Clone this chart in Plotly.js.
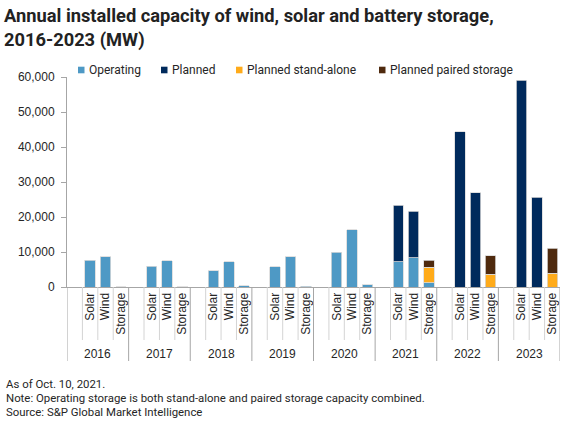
<!DOCTYPE html>
<html>
<head>
<meta charset="utf-8">
<script src="https://cdn.plot.ly/plotly-3.0.1.min.js"></script>
<style>
  html, body { margin: 0; padding: 0; background: #fff; }
  #chart { width: 585px; height: 429px; }
</style>
</head>
<body>
<div id="chart"></div>
<script>
// ---------- data (MW) ----------
const years = ['2016', '2017', '2018', '2019', '2020', '2021', '2022', '2023'];
const techs = ['Solar', 'Wind', 'Storage'];
const seriesNames = ['Operating', 'Planned', 'Planned stand-alone', 'Planned paired storage'];

const operatingSolar   = [7700, 6000, 4600, 5800, 10000, 7200, null, null];
const operatingWind    = [8600, 7500, 7200, 8700, 16400, 8300, null, null];
const operatingStorage = [50, 60, 300, 200, 650, 1200, null, null];

const plannedSolar = [null, null, null, null, null, 16100, 44400, 59100];
const plannedWind  = [null, null, null, null, null, 13400, 26900, 25700];

const plannedStandAloneStorage = [null, null, null, null, null, 4500, 3600, 3900];
const plannedPairedStorage     = [null, null, null, null, null, 1900, 5400, 7200];

const footnotes = [
  'As of Oct. 10, 2021.',
  'Note: Operating storage is both stand-alone and paired storage capacity combined.',
  'Source: S&P Global Market Intelligence'
];

// ---------- styling ----------
const colors = ['#4e99c5', '#002a5c', '#ffab1a', '#4f2a0e'];
const slotsPerYear = 4;            // one empty slot + Solar, Wind, Storage
const axisFont = 'Liberation Sans, Arial, sans-serif';
const textFont = 'Roboto, "Noto Sans", sans-serif';

// plot area in pixels (used only to place decorations)
const M = { l: 67, r: 25, t: 77, b: 142 };
const W = 585, H = 429;
const PW = W - M.l - M.r, PH = H - M.t - M.b;
const xp = px => (px - M.l) / PW;
const yp = py => (H - M.b - py) / PH;

function slot(yi, ti) { return yi * slotsPerYear + ti + 1; }

function buildTrace(name, color, byTech) {
  const x = [], y = [];
  years.forEach((yr, yi) => {
    techs.forEach((t, ti) => {
      const arr = byTech[t];
      if (arr && arr[yi] !== null && arr[yi] !== undefined) {
        x.push(slot(yi, ti));
        y.push(arr[yi]);
      }
    });
  });
  return {
    type: 'bar', name: name, x: x, y: y, width: 0.68,
    marker: { color: color, line: { color: '#d9d9d9', width: 0.8 } },
    hoverinfo: 'skip', showlegend: false
  };
}

const traces = [
  buildTrace(seriesNames[0], colors[0], { Solar: operatingSolar, Wind: operatingWind, Storage: operatingStorage }),
  buildTrace(seriesNames[1], colors[1], { Solar: plannedSolar, Wind: plannedWind }),
  buildTrace(seriesNames[2], colors[2], { Storage: plannedStandAloneStorage }),
  buildTrace(seriesNames[3], colors[3], { Storage: plannedPairedStorage })
];

// tick labels for the inner level
const tickvals = [], ticktext = [];
years.forEach((yr, yi) => techs.forEach((t, ti) => { tickvals.push(slot(yi, ti)); ticktext.push(t); }));

// divider lines and year labels
const shapes = [], annotations = [];
years.forEach((yr, yi) => {
  for (let k = 0; k < 3; k++) {
    const xv = yi * slotsPerYear + k + 0.5;
    shapes.push({ type: 'line', xref: 'x', yref: 'paper', x0: xv, x1: xv, y0: 0, y1: yp(340),
                  line: { color: '#d4d4d4', width: 1 } });
  }
  annotations.push({ xref: 'x', yref: 'paper', x: yi * slotsPerYear + 1.5, y: yp(354),
                     text: yr, showarrow: false, xanchor: 'center', yanchor: 'middle',
                     font: { family: axisFont, size: 12, color: '#262626' } });
});
for (let yi = 0; yi <= years.length; yi++) {
  const xv = yi * slotsPerYear - 0.5;
  shapes.push({ type: 'line', xref: 'x', yref: 'paper', x0: xv, x1: xv, y0: 0, y1: yp(361),
                line: { color: '#a6a6a6', width: 1 } });
}

// legend (drawn manually: small squares + labels)
const legendX = [78, 161, 236, 379];
const legendY = 70;
seriesNames.forEach((nm, i) => {
  shapes.push({ type: 'rect', xref: 'paper', yref: 'paper',
                x0: xp(legendX[i]), x1: xp(legendX[i] + 6.5), y0: yp(legendY - 3.3), y1: yp(legendY + 3.3),
                fillcolor: colors[i], line: { width: 0 } });
  annotations.push({ xref: 'paper', yref: 'paper', x: xp(legendX[i] + 9), y: yp(legendY),
                     text: nm, showarrow: false, xanchor: 'left', yanchor: 'middle',
                     font: { family: textFont, size: 12, color: '#262626' } });
});

// footnotes
footnotes.forEach((t, i) => {
  annotations.push({ xref: 'paper', yref: 'paper', x: xp(4), y: yp(384 + 14 * i),
                     text: t, showarrow: false, xanchor: 'left', yanchor: 'middle',
                     font: { family: textFont, size: 11.4, color: '#262626' } });
});

const layout = {
  width: W, height: H,
  margin: M,
  paper_bgcolor: '#ffffff', plot_bgcolor: '#ffffff',
  barmode: 'stack',
  showlegend: false,
  title: {
    text: 'Annual installed capacity of wind, solar and battery storage,<br>2016-2023 (MW)',
    x: 4 / W, xref: 'container', xanchor: 'left',
    y: 1 - 22 / H, yref: 'container', yanchor: 'middle',
    font: { family: textFont, size: 18.3, color: '#222222', weight: 'bold' }
  },
  xaxis: {
    range: [-0.5, years.length * slotsPerYear - 0.5],
    tickmode: 'array', tickvals: tickvals, ticktext: ticktext, tickangle: -90,
    tickfont: { family: axisFont, size: 12, color: '#262626' },
    showline: true, linecolor: '#a6a6a6', linewidth: 1,
    ticks: '', showgrid: false, zeroline: false, fixedrange: true
  },
  yaxis: {
    range: [0, 60000], tickmode: 'linear', tick0: 0, dtick: 10000, tickformat: ',d',
    tickfont: { family: axisFont, size: 12, color: '#262626' },
    ticklabelstandoff: 4,
    showline: true, linecolor: '#a6a6a6', linewidth: 1,
    ticks: 'outside', ticklen: 5, tickcolor: '#a6a6a6',
    showgrid: false, zeroline: false, fixedrange: true
  },
  shapes: shapes,
  annotations: annotations
};

Plotly.newPlot('chart', traces, layout, { displayModeBar: false, staticPlot: true });
</script>
</body>
</html>
